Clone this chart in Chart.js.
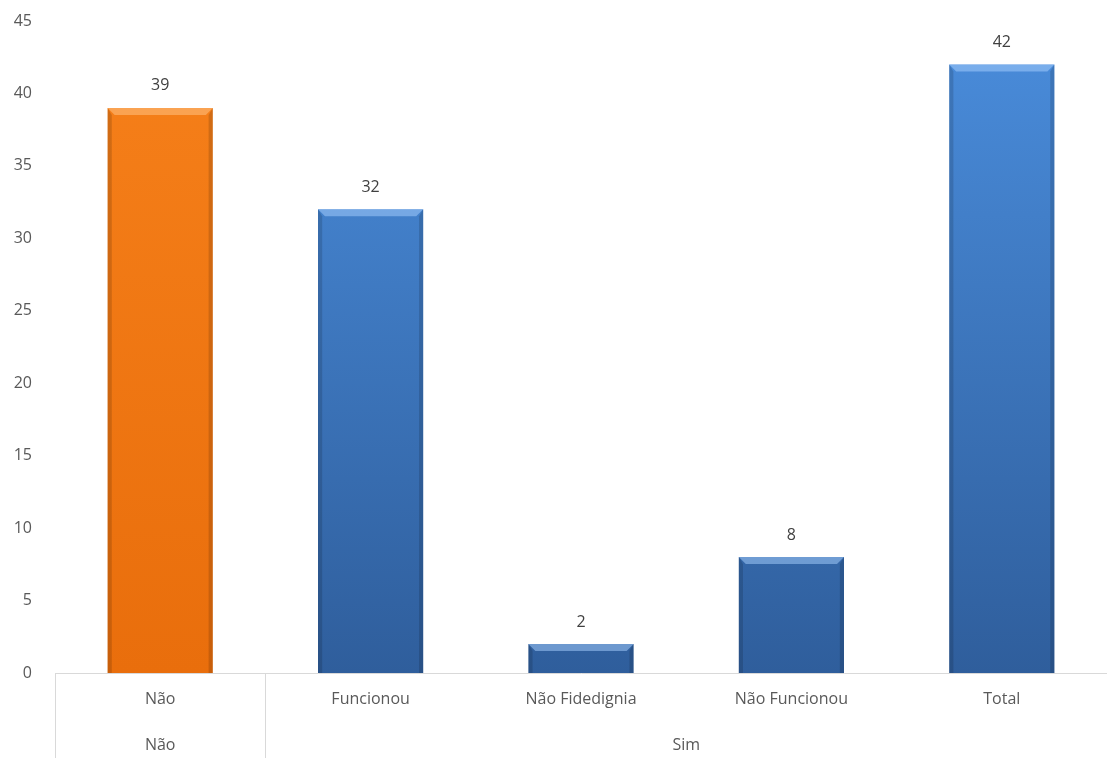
<!DOCTYPE html>
<html>
<head>
<meta charset="utf-8">
<script src="https://cdn.jsdelivr.net/npm/chart.js@4/dist/chart.umd.min.js"></script>
<style>
  html, body { margin:0; padding:0; background:#fff; }
  #wrap { width:1107px; height:758px; }
</style>
</head>
<body>
<div id="wrap"><canvas id="c"></canvas></div>
<script>
// data
const categories = ["Não", "Funcionou", "Não Fidedignia", "Não Funcionou", "Total"];
const groups = ["Não", "Sim", "Sim", "Sim", "Sim"];
const values = [39, 32, 2, 8, 42];
const yTicks = [0, 5, 10, 15, 20, 25, 30, 35, 40, 45];

const FONT = "'Open Sans', 'Liberation Sans', sans-serif";

function barFill(ctx){
    const chart = ctx.chart;
    const area = chart.chartArea;
    if(!area) return "#4480d0";
    const g = chart.ctx.createLinearGradient(0, area.top, 0, area.bottom);
    if(ctx.dataIndex === 0){
        g.addColorStop(0, "#f6801a");
        g.addColorStop(1, "#e96e0c");
    } else {
        g.addColorStop(0, "#4a8ddc");
        g.addColorStop(1, "#2f5e9c");
    }
    return g;
}

// bevel look on the bars
const bevel = {
    id:"bevel",
    afterDatasetsDraw(chart){
        const ctx = chart.ctx;
        chart.getDatasetMeta(0).data.forEach((bar, i)=>{
            const l = bar.x - bar.width/2, r = bar.x + bar.width/2;
            const t = bar.y, b = bar.base;
            const e = Math.min(7, (b - t)/2);
            ctx.save();
            // top
            ctx.fillStyle = i === 0 ? "rgba(255,200,140,0.5)" : "rgba(170,210,255,0.5)";
            ctx.beginPath();
            ctx.moveTo(l, t); ctx.lineTo(r, t); ctx.lineTo(r - e, t + e); ctx.lineTo(l + e, t + e);
            ctx.closePath(); ctx.fill();
            // sides
            ctx.fillStyle = "rgba(0,0,0,0.14)";
            ctx.beginPath();
            ctx.moveTo(l, t); ctx.lineTo(l + e*0.6, t + e); ctx.lineTo(l + e*0.6, b); ctx.lineTo(l, b);
            ctx.closePath(); ctx.fill();
            ctx.beginPath();
            ctx.moveTo(r, t); ctx.lineTo(r - e*0.6, t + e); ctx.lineTo(r - e*0.6, b); ctx.lineTo(r, b);
            ctx.closePath(); ctx.fill();
            // value label
            ctx.fillStyle = "#404040";
            ctx.font = "16px " + FONT;
            ctx.textAlign = "center";
            ctx.textBaseline = "middle";
            ctx.fillText(values[i], bar.x, t - 22);
            ctx.restore();
        });
    }
};

// second row of the category axis + separators
const groupAxis = {
    id:"groupAxis",
    afterDraw(chart){
        const ctx = chart.ctx;
        const xs = chart.scales.x;
        const half = (xs.getPixelForValue(1) - xs.getPixelForValue(0))/2;
        const y0 = chart.chartArea.bottom;
        const yEnd = chart.height;
        ctx.save();
        ctx.strokeStyle = "#d9d9d9";
        ctx.lineWidth = 1;
        let start = 0;
        for(let i=1; i<=groups.length; i++){
            if(i === groups.length || groups[i] !== groups[start]){
                const left = xs.getPixelForValue(start) - half;
                const right = xs.getPixelForValue(i-1) + half;
                ctx.fillStyle = "#595959";
                ctx.font = "16px " + FONT;
                ctx.textAlign = "center";
                ctx.textBaseline = "middle";
                ctx.fillText(groups[start], (left + right)/2, y0 + 72);
                ctx.beginPath();
                ctx.moveTo(Math.round(left) + 0.5, y0);
                ctx.lineTo(Math.round(left) + 0.5, yEnd);
                ctx.stroke();
                start = i;
            }
        }
        ctx.restore();
    }
};

new Chart(document.getElementById("c"), {
    type:"bar",
    data:{
        labels: categories,
        datasets:[{
            data: values,
            backgroundColor: barFill,
            borderWidth: 0,
            barPercentage: 0.5,
            categoryPercentage: 1
        }]
    },
    options:{
        responsive:true,
        maintainAspectRatio:false,
        animation:false,
        layout:{ padding:{ top:21, right:0, left:0, bottom:0 } },
        plugins:{ legend:{ display:false }, tooltip:{ enabled:false } },
        scales:{
            x:{
                grid:{ display:false, drawTicks:false },
                border:{ display:true, color:"#d9d9d9", width:1 },
                ticks:{ color:"#595959", font:{ family:FONT, size:16 }, padding:17, maxRotation:0 },
                afterFit: s => { s.height = 85; s.paddingLeft = 0; s.paddingRight = 0; }
            },
            y:{
                min:0, max:45,
                afterBuildTicks: s => { s.ticks = yTicks.map(v => ({ value:v })); },
                grid:{ display:false, drawTicks:false },
                border:{ display:false },
                ticks:{ color:"#595959", font:{ family:FONT, size:16 }, padding:23 },
                afterFit: s => { s.width = 55; s.paddingTop = 0; s.paddingBottom = 0; }
            }
        }
    },
    plugins:[bevel, groupAxis]
});
</script>
</body>
</html>
